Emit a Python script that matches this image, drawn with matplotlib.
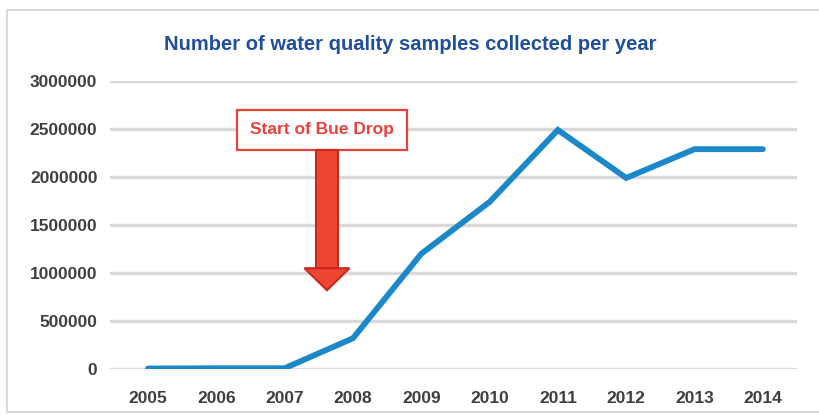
import matplotlib
matplotlib.use("Agg")
import matplotlib.pyplot as plt
from matplotlib.patches import Rectangle, Polygon
from matplotlib.lines import Line2D
import matplotlib.font_manager as fm

years = ["2005", "2006", "2007", "2008", "2009", "2010", "2011", "2012", "2013", "2014"]
samples = [5000, 8000, 8000, 320000, 1200000, 1740000, 2490000, 1990000, 2290000, 2290000]
y_ticks = [0, 500000, 1000000, 1500000, 2000000, 2500000, 3000000]
title = "Number of water quality samples collected per year"
callout = "Start of Bue Drop"

names = {f.name for f in fm.fontManager.ttflist}
fam = "Liberation Sans Narrow" if "Liberation Sans Narrow" in names else "Liberation Sans"

fig = plt.figure(figsize=(8.19, 4.17), dpi=100)
ax = fig.add_axes([110/819, 1-369/417, (797-110)/819, (369-81)/417])

x = list(range(len(years)))
ax.plot(x, samples, color="#1a88c9", lw=4.2, solid_capstyle="round", solid_joinstyle="miter", zorder=5)

ax.set_ylim(0, 3000000)
ax.set_xlim(-0.556, 9.5)
ax.set_yticks(y_ticks)
ax.set_yticklabels([str(v) for v in y_ticks])
ax.set_xticks(x)
ax.set_xticklabels(years)
for s in ax.spines.values():
    s.set_visible(False)
ax.grid(axis="y", color="#d9d9d9", lw=2.4)
ax.set_axisbelow(True)
ax.tick_params(length=0, labelsize=12.5, labelcolor="#3f3f3f")
ax.tick_params(axis="y", pad=9)
ax.tick_params(axis="x", pad=16)
for lab in ax.get_xticklabels() + ax.get_yticklabels():
    lab.set_fontfamily(fam)
    lab.set_fontweight("bold")

# callout box + arrow (data coords)
bx0, bx1 = 1.30, 3.79
by0, by1 = 2280000, 2700000
ax.add_patch(Rectangle((bx0, by0), bx1-bx0, by1-by0, facecolor="white",
                       edgecolor="#e8423a", lw=1.6, zorder=6, clip_on=False))
ax.text((bx0+bx1)/2, (by0+by1)/2, callout, ha="center", va="center",
        color="#e8423a", fontsize=12.5, fontweight="bold", family=fam, zorder=7)
ax_c = 2.62
sw = 0.16
hw = 0.33
ybase = 1050000
ytip = 820000
shaft = Rectangle((ax_c-sw, ybase), 2*sw, by0-ybase, facecolor="#ef4631",
                  edgecolor="#c8281f", lw=1.5, zorder=6)
ax.add_patch(shaft)
head = Polygon([[ax_c-hw, ybase], [ax_c+hw, ybase], [ax_c, ytip]], closed=True,
               facecolor="#ef4631", edgecolor="#c8281f", lw=1.5, zorder=6)
ax.add_patch(head)

fig.text(410/819, 1-44/417, title, ha="center", va="center", color="#1f4e9c",
         fontsize=14.5, fontweight="bold", family=fam)

# outer frame
fc = "#d9d9d9"
fig.add_artist(Line2D([7/819, 7/819], [1-10/417, 1-412/417], color=fc, lw=1.5))
fig.add_artist(Line2D([7/819, 1], [1-10/417, 1-10/417], color=fc, lw=1.5))
fig.add_artist(Line2D([7/819, 1], [1-412/417, 1-412/417], color=fc, lw=1.5))

fig.savefig("out.png", dpi=100, facecolor="white")
